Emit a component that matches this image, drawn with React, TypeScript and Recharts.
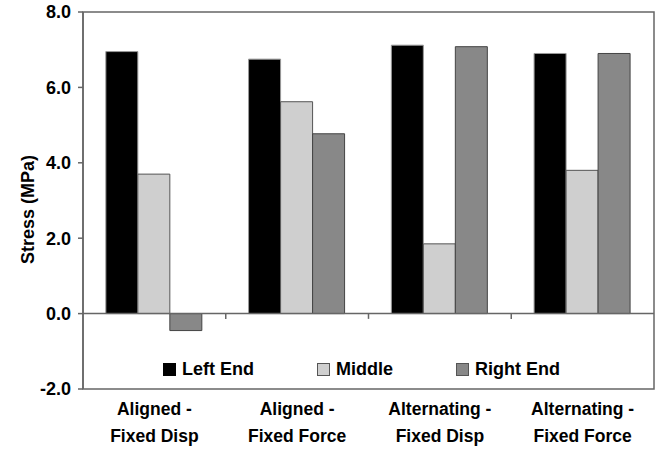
import React from 'react';
import { BarChart, Bar, XAxis, YAxis, ReferenceLine, ReferenceArea, Legend } from 'recharts';

const categories = ['Aligned -\nFixed Disp', 'Aligned -\nFixed Force', 'Alternating -\nFixed Disp', 'Alternating -\nFixed Force'];
const leftEnd = [6.95, 6.75, 7.12, 6.9];
const middle = [3.7, 5.62, 1.85, 3.8];
const rightEnd = [-0.45, 4.77, 7.08, 6.9];
const yTicks = [-2, 0, 2, 4, 6, 8];
const boundaryTicks = [1, 2, 3];

const seriesInfo = [
  { key: 'leftEnd', name: 'Left End', fill: '#000000', stroke: '#9a9a9a' },
  { key: 'middle', name: 'Middle', fill: '#cfcfcf', stroke: '#555555' },
  { key: 'rightEnd', name: 'Right End', fill: '#888888', stroke: '#444444' },
];

const data = categories.map((c, i) => ({
  category: c,
  pos: i + 0.5,
  leftEnd: leftEnd[i],
  middle: middle[i],
  rightEnd: rightEnd[i],
}));

const FONT = '"Liberation Sans", Arial, sans-serif';

const CategoryTick = (props: any) => {
  const { x, y, payload } = props;
  const lines = String(payload.value).split('\n');
  return (
    <g transform={`translate(${x},${y})`}>
      {lines.map((l, i) => (
        <text key={i} x={0} y={18 + i * 27} textAnchor="middle" fontFamily={FONT} fontWeight="bold" fontSize={17.5} fill="#000">
          {l}
        </text>
      ))}
    </g>
  );
};

const YTitle = (props: any) => {
  const vb = props.viewBox || { x: 0, y: 0, width: 0, height: 0 };
  const cx = vb.x + 28;
  const cy = vb.y + vb.height / 2 + 9;
  return (
    <text x={cx} y={cy} transform={`rotate(-90, ${cx}, ${cy})`} textAnchor="middle" dominantBaseline="central" fontFamily={FONT} fontWeight="bold" fontSize={18} fill="#000">
      Stress (MPa)
    </text>
  );
};

const LegendContent = () => (
  <div style={{ display: 'flex', gap: 63, fontFamily: FONT, fontWeight: 'bold', fontSize: 18, color: '#000', whiteSpace: 'nowrap' }}>
    {seriesInfo.map((s) => (
      <div key={s.key} style={{ display: 'flex', alignItems: 'center' }}>
        <svg width={13} height={13} style={{ marginRight: 6 }}>
          <rect x={0.5} y={0.5} width={12} height={12} fill={s.fill} stroke={s.key === 'leftEnd' ? '#000' : '#555'} strokeWidth={1} />
        </svg>
        <span>{s.name}</span>
      </div>
    ))}
  </div>
);

export default function App() {
  return (
    <div style={{ position: 'absolute', left: 0, top: 0, width: 658, height: 463, background: '#fff' }}>
      <BarChart
        width={658}
        height={463}
        data={data}
        margin={{ top: 12, right: 4, bottom: 0, left: 0 }}
        barCategoryGap="16%"
        barGap={0}
      >
        <XAxis dataKey="category" xAxisId={0} height={74} axisLine={false} tickLine={false} interval={0} tick={<CategoryTick />} />
        <XAxis xAxisId="num" dataKey="pos" type="number" domain={[0, 4]} allowDataOverflow hide />
        <YAxis
          domain={[-2, 8]}
          ticks={yTicks}
          width={83}
          tickFormatter={(v: number) => v.toFixed(1)}
          tickSize={5}
          tickMargin={7}
          axisLine={{ stroke: '#666', strokeWidth: 1.5 }}
          tickLine={{ stroke: '#666', strokeWidth: 1.5 }}
          tick={{ fontFamily: FONT, fontWeight: 'bold', fontSize: 18, fill: '#000' }}
          label={<YTitle />}
        />
        <ReferenceArea xAxisId="num" x1={0} x2={4} y1={-2} y2={8} fill="none" fillOpacity={0} stroke="#666" strokeWidth={1.5} ifOverflow="visible" />
        {seriesInfo.map((s) => (
          <Bar key={s.key} dataKey={s.key} name={s.name} fill={s.fill} stroke={s.stroke} strokeWidth={1} isAnimationActive={false} />
        ))}
        <ReferenceLine y={0} stroke="#666" strokeWidth={1.5} />
        {boundaryTicks.map((t) => (
          <ReferenceLine
            key={t}
            xAxisId="num"
            segment={[{ x: t, y: 0 }, { x: t, y: -0.14 }]}
            stroke="#666"
            strokeWidth={1.5}
            ifOverflow="visible"
          />
        ))}
        <Legend
          verticalAlign="middle"
          align="center"
          layout="horizontal"
          content={<LegendContent />}
          wrapperStyle={{ position: 'absolute', left: 163, top: 359, width: 'auto', height: 'auto' }}
        />
      </BarChart>
    </div>
  );
}
